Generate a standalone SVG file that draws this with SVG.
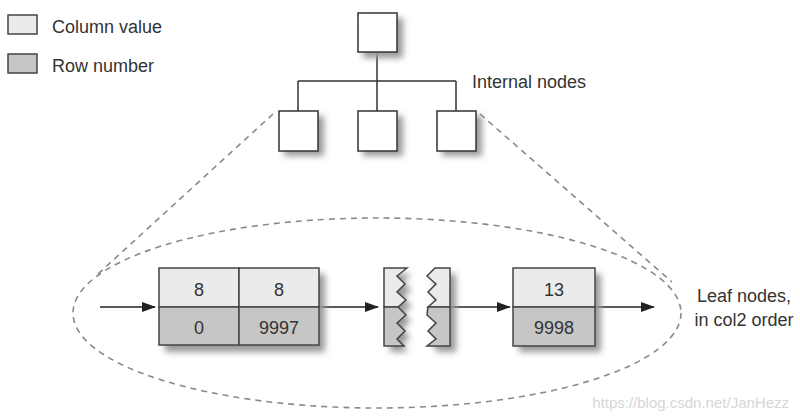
<svg xmlns="http://www.w3.org/2000/svg" width="800" height="420" viewBox="0 0 800 420">
<defs>
<filter id="sh" x="-30%" y="-30%" width="160%" height="160%"><feGaussianBlur stdDeviation="3"/></filter>
<marker id="ah" markerWidth="14" markerHeight="10" refX="13" refY="5" orient="auto" markerUnits="userSpaceOnUse"><path d="M0,0 L14,5 L0,10 Z" fill="#222"/></marker>
</defs>
<style>
text{font-family:"Liberation Sans",Arial,sans-serif;fill:#333}
.lbl{font-size:18px}
.cell{font-size:18px;text-anchor:middle}
.box{fill:#fff;stroke:#333;stroke-width:1.5}
.sh{fill:#999;filter:url(#sh)}
.lt{fill:#ebebeb;stroke:#444;stroke-width:1.5}
.dk{fill:#c6c6c6;stroke:#444;stroke-width:1.5}
.ln{fill:none;stroke:#333;stroke-width:1.5}
.dash{fill:none;stroke:#8a8a8a;stroke-width:1.6;stroke-dasharray:6 5}
.arr{fill:none;stroke:#222;stroke-width:1.5;marker-end:url(#ah)}
</style>
<rect width="800" height="420" fill="#fff"/>

<g id="legend">
<rect x="8" y="15" width="29" height="19" class="lt"/>
<text x="52" y="33" class="lbl">Column value</text>
<rect x="8" y="54" width="29" height="19" class="dk"/>
<text x="52" y="72" class="lbl">Row number</text>
</g>

<g id="connectors">
<path class="ln" d="M377,52 V81 M298,81 H456 M298,81 V111 M377,81 V111 M456,81 V111"/>
<path class="dash" d="M273,114 L98,274"/>
<path class="dash" d="M480,114 L672,282"/>
<ellipse class="dash" cx="377" cy="313" rx="304" ry="95"/>
<path class="arr" d="M100,307 H155"/>
<path class="arr" d="M320,307 H378"/>
<path class="arr" d="M451,307 H510"/>
<path class="arr" d="M596,307 H654"/>
</g>

<g id="root">
<rect x="363" y="18" width="40" height="40" class="sh"/>
<rect x="358" y="13" width="39" height="39" class="box"/>
</g>
<g id="internal1">
<rect x="284" y="116" width="40" height="40" class="sh"/>
<rect x="279" y="111" width="39" height="40" class="box"/>
</g>
<g id="internal2">
<rect x="363" y="116" width="40" height="40" class="sh"/>
<rect x="358" y="111" width="39" height="40" class="box"/>
</g>
<g id="internal3">
<rect x="442" y="116" width="40" height="40" class="sh"/>
<rect x="437" y="111" width="39" height="40" class="box"/>
</g>
<text x="472" y="88" class="lbl">Internal nodes</text>

<g id="leaf1">
<rect x="165" y="274" width="160" height="78" class="sh"/>
<rect x="159" y="268" width="80" height="39" class="lt"/>
<rect x="239" y="268" width="80" height="39" class="lt"/>
<rect x="159" y="307" width="80" height="38" class="dk"/>
<rect x="239" y="307" width="80" height="38" class="dk"/>
<text x="199" y="296" class="cell">8</text>
<text x="279" y="296" class="cell">8</text>
<text x="199" y="334" class="cell">0</text>
<text x="279" y="334" class="cell">9997</text>
</g>

<g id="gap">
<path class="sh" d="M390,274 H412 L403,282 L411,290 L403,298 L412,306 L403,313 L411,321 L402,329 L410,337 L402,345 L409,352 H390 Z"/>
<path class="sh" d="M440,274 H456 V352 H438 L432,345 L441,337 L433,329 L441,321 L433,313 L441,306 L433,298 L441,290 L432,282 Z"/>
<path class="lt" d="M384,268 H407 L397,276 L405,284 L397,292 L406,300 L398,307 H384 Z"/>
<path class="dk" d="M384,307 H398 L406,315 L397,323 L405,331 L397,339 L404,346 H384 Z"/>
<path class="lt" d="M435,268 H450 V307 H428 L436,300 L428,292 L436,284 L427,276 Z"/>
<path class="dk" d="M428,307 H450 V346 H427 L436,339 L428,331 L436,323 L427,315 Z"/>
</g>

<g id="leaf2">
<rect x="519" y="274" width="82" height="78" class="sh"/>
<rect x="513" y="268" width="82" height="39" class="lt"/>
<rect x="513" y="307" width="82" height="39" class="dk"/>
<text x="554" y="296" class="cell">13</text>
<text x="554" y="334" class="cell">9998</text>
</g>

<text x="744" y="302" class="lbl" text-anchor="middle">Leaf nodes,</text>
<text x="744" y="326" class="lbl" text-anchor="middle">in col2 order</text>
<text x="789" y="408" text-anchor="end" style="font-size:15px;fill:#d6d6d6">https://blog.csdn.net/JanHezz</text>
</svg>
